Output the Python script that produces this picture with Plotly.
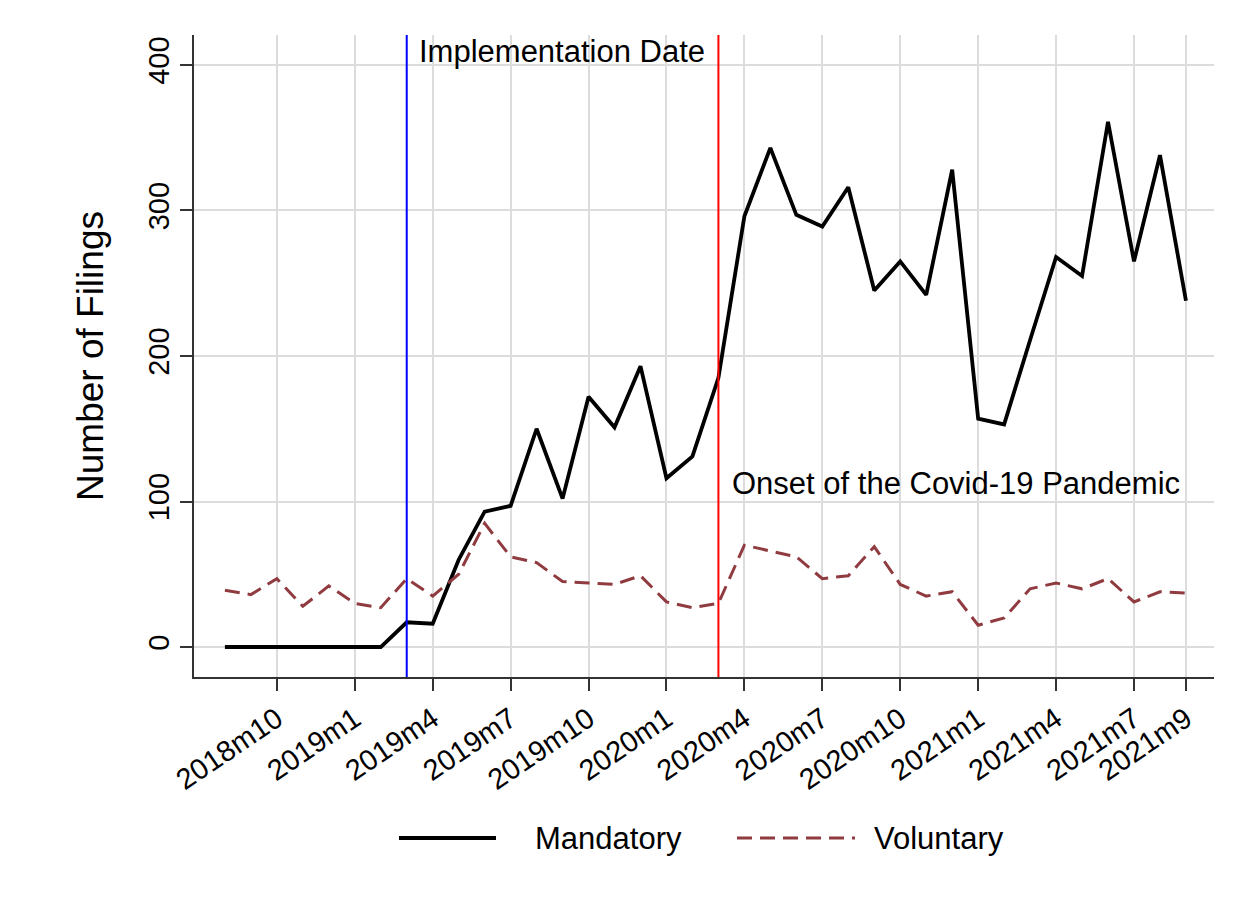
import plotly.graph_objects as go

months = ["2018m8","2018m9","2018m10","2018m11","2018m12",
          "2019m1","2019m2","2019m3","2019m4","2019m5","2019m6","2019m7","2019m8","2019m9","2019m10","2019m11","2019m12",
          "2020m1","2020m2","2020m3","2020m4","2020m5","2020m6","2020m7","2020m8","2020m9","2020m10","2020m11","2020m12",
          "2021m1","2021m2","2021m3","2021m4","2021m5","2021m6","2021m7","2021m8","2021m9"]
mandatory = [0,0,0,0,0,
             0,0,17,16,60,93,97,150,102,172,151,193,
             116,131,185,296,343,297,289,316,245,265,242,328,
             157,153,211,268,255,361,265,338,238]
voluntary = [39,36,47,28,42,
             30,27,47,35,50,85,62,58,45,44,43,49,
             31,27,30,70,66,62,47,49,69,43,35,38,
             15,20,40,44,40,47,31,38,37]
tick_labels = ["2018m10","2019m1","2019m4","2019m7","2019m10","2020m1","2020m4",
               "2020m7","2020m10","2021m1","2021m4","2021m7","2021m9"]
implementation_month = "2019m3"
covid_month = "2020m3"

x = list(range(len(months)))
tickvals = [months.index(t) for t in tick_labels]

FONT = "Liberation Sans, Arial, sans-serif"
MAROON = "#8f3b40"
DASH = "15px,8px"

# plot area in screen px: left 195, right 1215, top 35, bottom 677
PW, PH = 1020, 642
LEG_Y = -(838 - 677) / PH

fig = go.Figure()
fig.add_trace(go.Scatter(x=x, y=mandatory, mode="lines", name="Mandatory",
                         line=dict(color="black", width=3.8), showlegend=False))
fig.add_trace(go.Scatter(x=x, y=voluntary, mode="lines", name="Voluntary",
                         line=dict(color=MAROON, width=3, dash=DASH), showlegend=False))

xi = months.index(implementation_month)
xc = months.index(covid_month)
fig.add_vline(x=xi, line=dict(color="blue", width=2))
fig.add_vline(x=xc, line=dict(color="red", width=2))

fig.add_annotation(x=xi, y=409, text="Implementation Date", showarrow=False,
                   xanchor="left", yanchor="middle", xshift=10,
                   font=dict(family=FONT, size=31, color="black"))
fig.add_annotation(x=xc, y=112.5, text="Onset of the Covid-19 Pandemic", showarrow=False,
                   xanchor="left", yanchor="middle", xshift=12,
                   font=dict(family=FONT, size=31, color="black"))

# manual legend (paper coords)
fig.add_shape(type="line", xref="paper", yref="paper",
              x0=(400-195)/PW, x1=(497-195)/PW, y0=LEG_Y, y1=LEG_Y,
              line=dict(color="black", width=3.8))
fig.add_shape(type="line", xref="paper", yref="paper",
              x0=(738-195)/PW, x1=(856-195)/PW, y0=LEG_Y, y1=LEG_Y,
              line=dict(color=MAROON, width=3, dash=DASH))
fig.add_annotation(xref="paper", yref="paper", x=(534-195)/PW, y=LEG_Y,
                   text="Mandatory", showarrow=False, xanchor="left", yanchor="middle",
                   font=dict(family=FONT, size=31, color="black"))
fig.add_annotation(xref="paper", yref="paper", x=(873-195)/PW, y=LEG_Y,
                   text="Voluntary", showarrow=False, xanchor="left", yanchor="middle",
                   font=dict(family=FONT, size=31, color="black"))

fig.update_layout(
    width=1247, height=909,
    margin=dict(l=186, r=41, t=27, b=240),
    paper_bgcolor="white", plot_bgcolor="white",
    font=dict(family=FONT, color="black"),
    showlegend=False,
)
fig.update_xaxes(range=[-1.19, 38.08], tickvals=tickvals, ticktext=tick_labels,
                 tickangle=-34, tickfont=dict(size=29, color="black"),
                 showgrid=True, gridcolor="#dcdcdc", gridwidth=1.5,
                 showline=True, linecolor="#333333", linewidth=1.5,
                 ticks="outside", ticklen=12, tickwidth=1.5, tickcolor="#333333",
                 zeroline=False)
fig.update_yaxes(range=[-20.6, 420.6], tickvals=[0,100,200,300,400],
                 tickangle=-90, tickfont=dict(size=29, color="black"),
                 title=dict(text="Number of Filings", font=dict(size=37, color="black"), standoff=28),
                 showgrid=True, gridcolor="#dcdcdc", gridwidth=1.5,
                 showline=True, linecolor="#333333", linewidth=1.5,
                 ticks="outside", ticklen=12, tickwidth=1.5, tickcolor="#333333",
                 zeroline=False)

fig.write_html("out.html")
